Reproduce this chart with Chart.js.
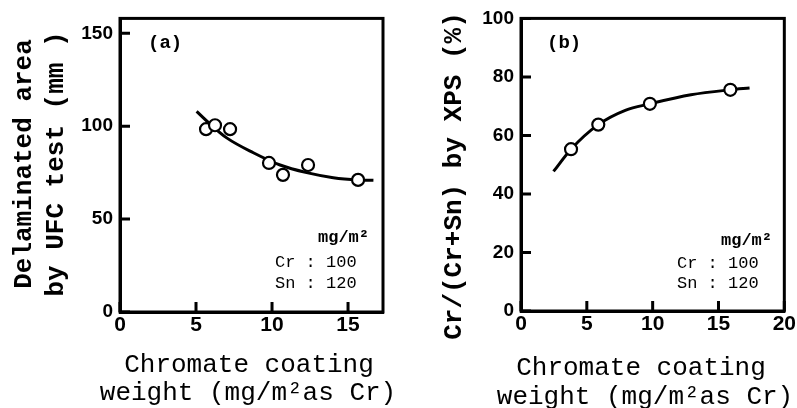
<!DOCTYPE html>
<html>
<head>
<meta charset="utf-8">
<script src="https://cdn.jsdelivr.net/npm/chart.js@4.4.1/dist/chart.umd.min.js"></script>
<style>
  body { margin: 0; background: #fff; }
  #wrap { position: relative; width: 797px; height: 408px; overflow: hidden; }
  canvas { position: absolute; top: 0; }
  #chart-a { left: 0; }
  #chart-b { left: 400px; }
</style>
</head>
<body>
<div id="wrap">
  <canvas id="chart-a" width="400" height="408"></canvas>
  <canvas id="chart-b" width="397" height="408"></canvas>
</div>
<script>
// (a) delaminated area after UFC test
const weightA = [5.66, 6.25, 7.24, 9.80, 10.72, 12.37, 15.66];
const areaA = [98.4, 100.5, 98.4, 80.2, 73.8, 79.1, 71.1];
// hand-drawn trend curve through (a)
const curveWeightA = [5.04, 5.92, 7.02, 8.77, 10.53, 12.28, 14.03, 15.68, 16.67];
const curveAreaA = [108.0, 101.2, 93.7, 85.7, 79.1, 75.0, 72.3, 71.1, 70.9];

// (b) Cr/(Cr+Sn) ratio by XPS
const weightB = [3.80, 5.87, 9.79, 15.90];
const ratioB = [55.3, 63.7, 70.8, 75.6];
const curveWeightB = [2.47, 3.80, 5.87, 7.92, 9.79, 12.91, 15.90, 17.36];
const curveRatioB = [47.7, 55.3, 63.7, 68.6, 70.8, 73.9, 75.6, 76.2];

const ticksA = { x: [0, 5, 10, 15], y: [0, 50, 100, 150] };
const ticksB = { x: [0, 5, 10, 15, 20], y: [0, 20, 40, 60, 80, 100] };

const MONO = "'Liberation Mono', 'DejaVu Sans Mono', monospace";
const NUMS = "'Liberation Sans Narrow', 'Liberation Sans', Arial, sans-serif";

function toXY(xs, ys) {
  return xs.map((x, i) => ({ x: x, y: ys[i] }));
}

// boxed frame, inward tick marks and the free text (axis captions, notes)
const framePlugin = {
  id: 'frameAndCaptions',
  afterDraw(chart, args, opts) {
    const ctx = chart.ctx;
    const a = chart.chartArea;
    ctx.save();
    ctx.lineWidth = 3;
    ctx.strokeStyle = '#000';
    ctx.strokeRect(a.left, a.top, a.right - a.left, a.bottom - a.top);

    // tick marks point into the plot
    const tickLen = 10;
    ctx.beginPath();
    chart.scales.x.ticks.forEach(t => {
      const px = chart.scales.x.getPixelForValue(t.value);
      ctx.moveTo(px, a.bottom);
      ctx.lineTo(px, a.bottom - tickLen);
    });
    chart.scales.y.ticks.forEach(t => {
      const py = chart.scales.y.getPixelForValue(t.value);
      ctx.moveTo(a.left, py);
      ctx.lineTo(a.left + tickLen, py);
    });
    ctx.stroke();

    ctx.fillStyle = '#000';
    (opts.items || []).forEach(item => {
      ctx.save();
      ctx.font = item.font;
      ctx.textAlign = item.align || 'center';
      ctx.textBaseline = 'middle';
      ctx.translate(item.x, item.y);
      if (item.rotate) ctx.rotate(item.rotate);
      ctx.fillText(item.text, 0, 0);
      ctx.restore();
    });
    ctx.restore();
  }
};

function axisOpts(min, max, values, fontSize, padding, fit) {
  return {
    type: 'linear',
    min: min,
    max: max,
    afterBuildTicks: (scale) => { scale.ticks = values.map(v => ({ value: v })); },
    ticks: {
      color: '#000',
      padding: padding,
      font: { family: NUMS, size: fontSize, weight: 'bold' },
    },
    grid: { drawOnChartArea: false, drawTicks: false },
    border: { display: true, width: 3, color: '#000' },
    afterFit: fit,
  };
}

function makeChart(id, points, curve, cfg) {
  return new Chart(document.getElementById(id), {
    type: 'scatter',
    data: {
      datasets: [
        {
          data: points,
          pointRadius: 6,
          pointBorderWidth: 2.2,
          pointBackgroundColor: '#fff',
          pointBorderColor: '#000',
          showLine: false,
        },
        {
          data: curve,
          showLine: true,
          pointRadius: 0,
          borderColor: '#000',
          borderWidth: 3,
          cubicInterpolationMode: 'monotone',
        },
      ]
    },
    options: {
      responsive: false,
      animation: false,
      layout: { padding: cfg.padding },
      scales: {
        x: axisOpts(0, cfg.xMax, cfg.ticks.x, 21, 1, s => { s.height = cfg.xHeight; }),
        y: axisOpts(0, cfg.yMax, cfg.ticks.y, 19, 7, s => { s.width = cfg.yWidth; }),
      },
      plugins: {
        legend: { display: false },
        tooltip: { enabled: false },
        frameAndCaptions: { items: cfg.items },
      },
    },
    plugins: [framePlugin],
  });
}

const UP = -Math.PI / 2;

const chartA = makeChart('chart-a', toXY(weightA, areaA), toXY(curveWeightA, curveAreaA), {
  xMax: 17.3, yMax: 158, ticks: ticksA,
  padding: { top: 16, right: 17, left: 0, bottom: 0 },
  xHeight: 96, yWidth: 120,
  items: [
    { text: 'Delaminated area', x: 24, y: 164, rotate: UP, font: 'bold 26px ' + MONO },
    { text: 'by UFC test (mm )', x: 56, y: 164, rotate: UP, font: 'bold 26px ' + MONO },
    { text: 'Chromate coating', x: 249, y: 365, font: '26px ' + MONO },
    { text: 'weight (mg/m\u00b2as Cr)', x: 248, y: 393, font: '26px ' + MONO },
    { text: '(a)', x: 148, y: 43, align: 'left', font: 'bold 19px ' + MONO },
    { text: 'mg/m\u00b2', x: 369, y: 238, align: 'right', font: 'bold 17px ' + MONO },
    { text: 'Cr : 100', x: 275, y: 262, align: 'left', font: '17px ' + MONO },
    { text: 'Sn : 120', x: 275, y: 283, align: 'left', font: '17px ' + MONO },
  ],
});

const chartB = makeChart('chart-b', toXY(weightB, ratioB), toXY(curveWeightB, curveRatioB), {
  xMax: 20, yMax: 100, ticks: ticksB,
  padding: { top: 16, right: 9, left: 0, bottom: 0 },
  xHeight: 97, yWidth: 121,
  items: [
    { text: 'Cr/(Cr+Sn) by XPS (%)', x: 54, y: 176, rotate: UP, font: 'bold 26px ' + MONO },
    { text: 'Chromate coating', x: 241, y: 368, font: '26px ' + MONO },
    { text: 'weight (mg/m\u00b2as Cr)', x: 245, y: 397, font: '26px ' + MONO },
    { text: '(b)', x: 147, y: 43, align: 'left', font: 'bold 19px ' + MONO },
    { text: 'mg/m\u00b2', x: 372, y: 241, align: 'right', font: 'bold 17px ' + MONO },
    { text: 'Cr : 100', x: 277, y: 263, align: 'left', font: '17px ' + MONO },
    { text: 'Sn : 120', x: 277, y: 283, align: 'left', font: '17px ' + MONO },
  ],
});
</script>
</body>
</html>
